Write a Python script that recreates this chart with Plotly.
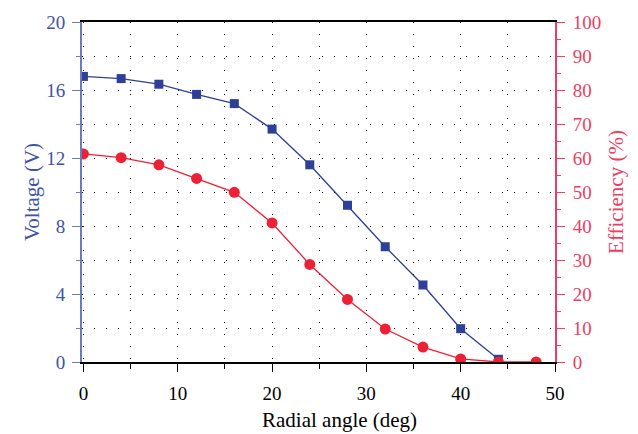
import plotly.graph_objects as go

# Measured output versus radial angle
angle_v = [0, 4, 8, 12, 16, 20, 24, 28, 32, 36, 40, 44]
voltage = [16.8, 16.67, 16.34, 15.74, 15.2, 13.7, 11.6, 9.22, 6.78, 4.53, 1.96, 0.16]

angle_e = [0, 4, 8, 12, 16, 20, 24, 28, 32, 36, 40, 44, 48]
efficiency = [61.2, 60.1, 58.0, 54.0, 49.9, 40.9, 28.7, 18.4, 9.7, 4.4, 0.9, 0.0, 0.0]

x_ticks = [0, 10, 20, 30, 40, 50]
v_ticks = [0, 4, 8, 12, 16, 20]
e_ticks = [0, 10, 20, 30, 40, 50, 60, 70, 80, 90, 100]

BLUE = "#2d3f96"
BLUE_AXIS = "#6a7cc0"
BLUE_TEXT = "#3f53a4"
RED = "#ec2136"
RED_AXIS = "#ee3d62"
FONT = "Liberation Serif"
GRID_DASH = "1px,11px"

fig = go.Figure()

fig.add_trace(go.Scatter(
    x=angle_v, y=voltage, mode="lines+markers",
    line=dict(color=BLUE, width=1.3),
    marker=dict(symbol="square", size=9, color=BLUE),
    yaxis="y", showlegend=False,
))
fig.add_trace(go.Scatter(
    x=angle_e, y=efficiency, mode="lines+markers",
    line=dict(color=RED, width=1.3),
    marker=dict(symbol="circle", size=11, color=RED),
    yaxis="y2", showlegend=False,
))

fig.update_layout(
    width=638, height=434,
    margin=dict(l=82, r=83, t=18, b=72),
    paper_bgcolor="white", plot_bgcolor="white",
    font=dict(family=FONT, size=19, color="black"),
    xaxis=dict(
        range=[-0.15, 50], tickvals=x_ticks, ticks="outside", ticklen=8,
        tickwidth=1.3, tickcolor="black",
        showline=True, linecolor="black", linewidth=1.5, mirror=True,
        showgrid=True, gridcolor="black", gridwidth=1, griddash=GRID_DASH,
        minor=dict(dtick=5, ticks="outside", ticklen=5, tickcolor="black",
                   showgrid=True, gridcolor="black", griddash=GRID_DASH),
        zeroline=False, tickfont=dict(size=19, color="black"),
        ticklabelstandoff=5,
    ),
    yaxis=dict(
        range=[0, 20], tickvals=v_ticks, ticks="outside", ticklen=8,
        tickwidth=1.3, tickcolor=BLUE_AXIS,
        showline=True, linecolor=BLUE_AXIS, linewidth=2,
        showgrid=True, gridcolor="black", gridwidth=1, griddash=GRID_DASH,
        minor=dict(dtick=2, ticks="outside", ticklen=4, tickcolor=BLUE_AXIS),
        zeroline=False, tickfont=dict(size=19, color=BLUE_TEXT),
        ticklabelstandoff=3,
        title=dict(text="Voltage (V)", font=dict(size=21, color=BLUE_TEXT), standoff=1),
    ),
    yaxis2=dict(
        range=[0, 100], tickvals=e_ticks, ticks="outside", ticklen=8,
        tickwidth=1.3, tickcolor=RED_AXIS, overlaying="y", side="right",
        showline=True, linecolor=RED_AXIS, linewidth=2,
        showgrid=True, gridcolor="black", gridwidth=1, griddash=GRID_DASH,
        zeroline=False,
        minor=dict(dtick=5, ticks="outside", ticklen=4, tickcolor=RED_AXIS),
        tickfont=dict(size=19, color=RED_AXIS),
        ticklabelstandoff=4,
        title=dict(text="Efficiency (%)", font=dict(size=21, color=RED_AXIS), standoff=8),
    ),
    annotations=[dict(
        text="Radial angle (deg)", xref="paper", yref="paper",
        x=0.545, y=0, xanchor="center", yanchor="middle", yshift=-58,
        showarrow=False, font=dict(size=21, color="black"),
    )],
)

fig.write_html("out.html")
